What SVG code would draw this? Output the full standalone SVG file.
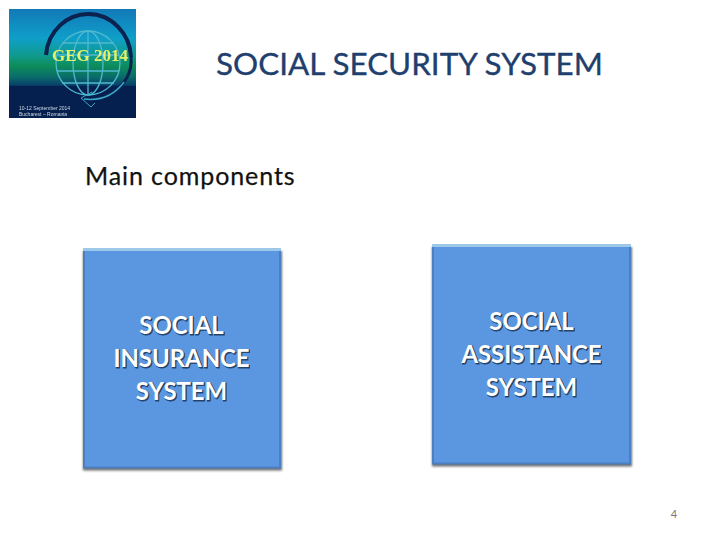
<svg xmlns="http://www.w3.org/2000/svg" width="720" height="540" viewBox="0 0 720 540">
<style>
.t{font-family:Lato,"Open Sans","Liberation Sans",sans-serif;}
.box{font-family:Lato,"Open Sans","Liberation Sans",sans-serif;font-size:23.9px;font-weight:700;fill:#fff;text-anchor:middle}
.sh{fill:#24426a;stroke:#24426a;stroke-width:.8px}
.edge{fill:none;stroke:#4c7fbf;stroke-width:2}
</style>
<defs>
<linearGradient id="bg" x1="0" y1="0" x2="0" y2="1">
<stop offset="0" stop-color="#1279b8"/><stop offset=".27" stop-color="#0f9fc9"/><stop offset=".43" stop-color="#0f9a8c"/><stop offset=".52" stop-color="#0c8d5a"/><stop offset=".62" stop-color="#0a6e6a"/><stop offset=".7" stop-color="#08406a"/><stop offset=".71" stop-color="#05204f"/><stop offset="1" stop-color="#05204f"/>
</linearGradient>
<filter id="bl" x="-10%" y="-10%" width="120%" height="120%"><feGaussianBlur stdDeviation="1.3"/></filter>
<filter id="tbl" x="-10%" y="-20%" width="120%" height="140%"><feGaussianBlur stdDeviation=".7"/></filter>
<filter id="soft" x="-5%" y="-5%" width="110%" height="110%"><feGaussianBlur stdDeviation=".6"/></filter>
</defs>
<rect width="720" height="540" fill="#fff"/>
<g id="logo">
<rect x="9" y="9" width="127" height="109" fill="url(#bg)"/>
<g filter="url(#soft)">
<g fill="none" stroke="#4fb9cf" stroke-width="1.3">
<circle cx="88" cy="63" r="32"/>
<ellipse cx="88" cy="63" rx="15" ry="32"/>
<line x1="88" y1="31" x2="88" y2="95"/>
<line x1="57" y1="55" x2="119" y2="55"/>
<line x1="57" y1="71" x2="119" y2="71"/>
<line x1="62" y1="43" x2="114" y2="43"/>
<line x1="62" y1="83" x2="114" y2="83"/>
</g>
<path d="M46 55 C48 30 68 14 88 14 C112 14 130 34 131 57" fill="none" stroke="#07244f" stroke-width="4"/>
<path d="M131 57 C133 80 113 101 84 99" fill="none" stroke="#07244f" stroke-width="3"/>
<path d="M124 82 C113 97 100 101 84 99" fill="none" stroke="#3aa7c9" stroke-width="1.5"/>
<path d="M92 92 L81 98 L91 107 L95 103" fill="none" stroke="#3aa7c9" stroke-width="1"/>
<text x="90" y="61" font-family="Liberation Serif,serif" font-size="17" font-weight="700" fill="#e8f06a" text-anchor="middle">GEG 2014</text>
<text x="19" y="110" font-family="Liberation Sans,sans-serif" font-size="5" fill="#cfd8e6">10-12 September 2014</text>
<text x="19" y="116" font-family="Liberation Sans,sans-serif" font-size="5" fill="#cfd8e6">Bucharest – Romania</text>
</g>
</g>
<g id="title"><text class="t" x="409.5" y="75" font-size="31.4" fill="#1f3f6e" stroke="#1f3f6e" stroke-width=".35" text-anchor="middle">SOCIAL SECURITY SYSTEM</text></g>
<g id="subtitle"><text class="t" x="85" y="185" font-size="25" fill="#111" stroke="#111" stroke-width=".25" letter-spacing=".9">Main components</text></g>
<g id="insurance">
<rect x="83" y="251" width="199" height="219.5" fill="#333" opacity=".7" filter="url(#bl)"/>
<rect x="83" y="249" width="198" height="219" fill="#5b96e0"/>
<path class="edge" d="M84 250V467.5H280V250"/>
<rect x="83" y="248" width="198" height="3" fill="#9cc8ea"/>
<g filter="url(#tbl)">
<text class="box sh" x="182.5" y="335">SOCIAL</text>
<text class="box sh" x="182.5" y="368">INSURANCE</text>
<text class="box sh" x="182.5" y="401">SYSTEM</text>
</g>
<text class="box" x="181.5" y="334">SOCIAL</text>
<text class="box" x="181.5" y="367">INSURANCE</text>
<text class="box" x="181.5" y="400">SYSTEM</text>
</g>
<g id="assistance">
<rect x="432" y="247" width="200" height="219.5" fill="#333" opacity=".7" filter="url(#bl)"/>
<rect x="432" y="245" width="199" height="219" fill="#5b96e0"/>
<path class="edge" d="M433 246V463.5H630V246"/>
<rect x="432" y="244" width="199" height="3" fill="#9cc8ea"/>
<g filter="url(#tbl)">
<text class="box sh" x="532.5" y="331">SOCIAL</text>
<text class="box sh" x="532.5" y="364">ASSISTANCE</text>
<text class="box sh" x="532.5" y="397">SYSTEM</text>
</g>
<text class="box" x="531.5" y="330">SOCIAL</text>
<text class="box" x="531.5" y="363">ASSISTANCE</text>
<text class="box" x="531.5" y="396">SYSTEM</text>
</g>
<g id="page"><text class="t" x="674" y="518" font-size="11" fill="#777" text-anchor="middle">4</text></g>
<g id="connectors"/>
</svg>
